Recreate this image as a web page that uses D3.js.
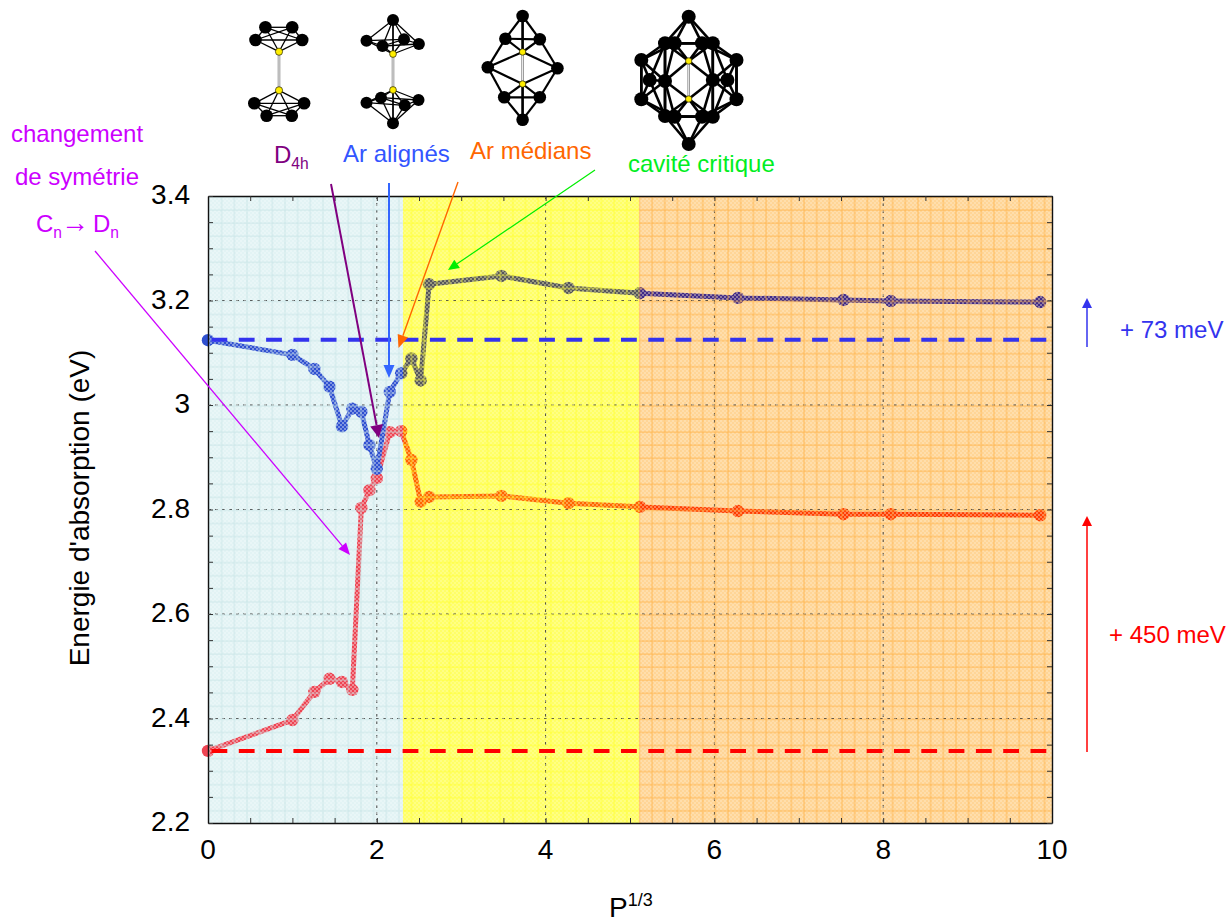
<!DOCTYPE html>
<html><head><meta charset="utf-8">
<script src="https://cdn.jsdelivr.net/npm/d3@7"></script>
<style>
html,body{margin:0;padding:0;background:#fff;overflow:hidden}
text{font-family:"Liberation Sans",Arial,sans-serif}
</style></head><body>
<svg id="c" width="1229" height="924"></svg>
<script>
// ---- chart data ----
const pCube = [0,1,1.26,1.44,1.587,1.71,1.817,1.913,2,2.154,2.289,2.41,2.52,2.62,3.476,4.27,5.117,6.28,7.53,8.09,9.86];
const blueEnergy = [3.124,3.096,3.069,3.035,2.959,2.993,2.987,2.923,2.878,3.025,3.061,3.089,3.047,3.231,3.247,3.224,3.214,3.205,3.201,3.199,3.197];
const redEnergy  = [2.338,2.397,2.451,2.476,2.470,2.455,2.803,2.837,2.860,2.948,2.950,2.895,2.815,2.824,2.826,2.812,2.805,2.797,2.791,2.791,2.789];
const xTickLabels = [0,2,4,6,8,10];
const yTickLabels = [2.2,2.4,2.6,2.8,3,3.2,3.4];
const zoneEdges = [0,2.31,5.106,10];
const refBlue = 3.125, refRed = 2.338, refEnd = 9.95;

// ---- zone colours ----
const zoneNames = ["z0","z1","z2"];
const zoneBase = ["#e2f3f4","#ffff66","#ffd596"];
const zoneDither = ["#f4fbfb","#ffffb0","#ffeccc"];
const zoneGrid = ["#c0e0e2","#ffff22","#ffa830"];
const blueLine = ["#2f50d0","#55555c","#3f2a88"];
const redLine  = ["#ee4452","#ff6400","#ff3c00"];

const svg = d3.select("#c");
const x = d3.scaleLinear().domain([0,10]).range([208,1052]);
const y = d3.scaleLinear().domain([2.2,3.4]).range([823,196]);
const defs = svg.append("defs");

function grid(id,c){
  const p = defs.append("pattern").attr("id",id).attr("patternUnits","userSpaceOnUse")
    .attr("x",208).attr("y",196).attr("width",12.66).attr("height",13.06);
  p.append("line").attr("x1",1).attr("x2",1).attr("y1",0).attr("y2",13.06).attr("stroke",c).attr("stroke-width",1);
  p.append("line").attr("x1",0).attr("x2",12.66).attr("y1",1).attr("y2",1).attr("stroke",c).attr("stroke-width",1);
}
function dither(id,c){
  const p = defs.append("pattern").attr("id",id).attr("patternUnits","userSpaceOnUse").attr("width",4).attr("height",4);
  p.append("rect").attr("width",2).attr("height",2).attr("fill",c);
  p.append("rect").attr("x",2).attr("y",2).attr("width",2).attr("height",2).attr("fill",c);
}
zoneNames.forEach((n,i)=>{
  grid("g"+n,zoneGrid[i]); dither("d"+n,zoneDither[i]);
  defs.append("clipPath").attr("id","c"+n).append("rect")
    .attr("x",x(zoneEdges[i])-(i==0?10:0)).attr("y",180)
    .attr("width",x(zoneEdges[i+1])-x(zoneEdges[i])+(i==0?10:0)+(i==2?10:0)).attr("height",660);
});
function zoneRects(fillFn,op){
  zoneNames.forEach((n,i)=>{
    svg.append("rect").attr("x",x(zoneEdges[i])).attr("y",y(3.4))
      .attr("width",x(zoneEdges[i+1])-x(zoneEdges[i])).attr("height",y(2.2)-y(3.4))
      .attr("fill",fillFn(n,i)).attr("opacity",op);
  });
}
zoneRects((n,i)=>zoneBase[i],1);

// dotted major grid
const gridG = svg.append("g").attr("stroke","#444").attr("stroke-width",1).attr("stroke-dasharray","3 4");
gridG.selectAll(".v").data(xTickLabels.slice(1,-1)).join("line")
  .attr("x1",d=>x(d)).attr("x2",d=>x(d)).attr("y1",y(3.4)).attr("y2",y(2.2));
gridG.selectAll(".h").data(yTickLabels.slice(1,-1)).join("line")
  .attr("x1",x(0)).attr("x2",x(10)).attr("y1",d=>y(d)).attr("y2",d=>y(d));

// series, one pass per zone so that the colour follows the background
const line = d3.line().x((d,i)=>x(pCube[i])).y(d=>y(d));
function series(vals,cols){
  zoneNames.forEach((n,i)=>{
    const g = svg.append("g").attr("clip-path",`url(#c${n})`);
    g.append("path").attr("d",line(vals)).attr("fill","none").attr("stroke",cols[i]).attr("stroke-width",5).attr("stroke-linejoin","round");
    g.selectAll("circle").data(vals).join("circle")
      .attr("cx",(d,j)=>x(pCube[j])).attr("cy",d=>y(d)).attr("r",6.2).attr("fill",cols[i]);
  });
}
series(redEnergy,redLine);
series(blueEnergy,blueLine);

// translucent texture above the curves
zoneRects((n)=>`url(#d${n})`,0.4);
zoneRects((n)=>`url(#g${n})`,0.65);

// axes
const minorX = d3.range(0,10.01,0.5), minorY = d3.range(2.2,3.401,0.05);
function axisStyle(g){
  g.selectAll(".domain").attr("stroke","#111").attr("stroke-width",1.4);
  g.selectAll(".tick line").attr("stroke","#333").attr("stroke-width",1);
  g.selectAll("text").remove();
}
svg.append("g").attr("transform",`translate(0,${y(2.2)})`)
  .call(d3.axisBottom(x).tickValues(minorX).tickSize(-5).tickSizeOuter(0)).call(axisStyle);
svg.append("g").attr("transform",`translate(0,${y(3.4)})`)
  .call(d3.axisTop(x).tickValues(minorX).tickSize(-5).tickSizeOuter(0)).call(axisStyle);
svg.append("g").attr("transform",`translate(${x(0)},0)`)
  .call(d3.axisLeft(y).tickValues(minorY).tickSize(-5).tickSizeOuter(0)).call(axisStyle);
svg.append("g").attr("transform",`translate(${x(10)},0)`)
  .call(d3.axisRight(y).tickValues(minorY).tickSize(-5).tickSizeOuter(0)).call(axisStyle);

// tick labels
svg.append("g").selectAll("text").data(xTickLabels).join("text")
  .attr("x",d=>x(d)).attr("y",859).attr("text-anchor","middle").attr("font-size",28).text(d=>d);
svg.append("g").selectAll("text").data(yTickLabels).join("text")
  .attr("x",190).attr("y",d=>y(d)+8).attr("text-anchor","end").attr("font-size",28).text(d=>d);

svg.append("text").attr("transform","translate(89,508) rotate(-90)").attr("text-anchor","middle")
  .attr("font-size",28).text("Energie d'absorption (eV)");
const pl = svg.append("text").attr("x",609).attr("y",917).attr("font-size",28);
pl.append("tspan").text("P");
pl.append("tspan").attr("dy",-11).attr("font-size",18).text("1/3");

// reference dashed levels
[[refBlue,"#3333ee"],[refRed,"#ff0000"]].forEach(([v,c])=>{
  svg.append("line").attr("x1",x(0)).attr("x2",x(refEnd)).attr("y1",y(v)).attr("y2",y(v))
    .attr("stroke",c).attr("stroke-width",4).attr("stroke-dasharray","15.8 11.5").attr("stroke-dashoffset",-3.5);
});

// annotation arrows
function arrow(x1,y1,x2,y2,c,w,hl,hw){
  const a = Math.atan2(y2-y1,x2-x1), bx=x2-hl*Math.cos(a), by=y2-hl*Math.sin(a);
  svg.append("line").attr("x1",x1).attr("y1",y1).attr("x2",bx).attr("y2",by).attr("stroke",c).attr("stroke-width",w);
  const nx=-Math.sin(a)*hw/2, ny=Math.cos(a)*hw/2;
  svg.append("path").attr("d",d3.line()([[x2,y2],[bx+nx,by+ny],[bx-nx,by-ny]])).attr("fill",c);
}
arrow(331,184,379,438,"#800080",2,13,13);
arrow(389,183,389,378,"#3366ff",2,13,11);
arrow(458,182,398.5,348,"#ff6600",1.4,13,11);
arrow(595,170,448,270,"#00ee00",1.2,11,10);
arrow(95,251,350,555,"#cc00ff",1.3,12,10);
arrow(1087,347,1087,298,"#3333ee",1.5,10,10);
arrow(1087,752,1087,516,"#ff0000",1.5,10,10);

// annotation text
function label(tx,ty,c,size,anchor,parts){
  const t = svg.append("text").attr("x",tx).attr("y",ty).attr("fill",c).attr("font-size",size).attr("text-anchor",anchor);
  parts.forEach(p=>{
    if(p.sub) t.append("tspan").attr("dy",6).attr("font-size",size*0.65).text(p.sub);
    else { const s=t.append("tspan").attr("dy",p.back?-6:0).text(p.t); if(p.at) s.attr("x",p.at); if(p.fs) s.attr("font-size",p.fs); }
  });
}
label(274,163,"#800080",24,"start",[{t:"D"},{sub:"4h"}]);
label(343,162,"#3355ff",24,"start",[{t:"Ar alignés"}]);
label(470,159,"#ff6600",24,"start",[{t:"Ar médians"}]);
label(628,172,"#00ee22",24,"start",[{t:"cavité critique"}]);
label(77,142,"#cc00ff",24,"middle",[{t:"changement"}]);
label(77,185,"#cc00ff",24,"middle",[{t:"de symétrie"}]);
label(36,232,"#cc00ff",24,"start",[{t:"C"},{sub:"n"},{t:"→",back:true,at:61,fs:28},{t:"D",at:93},{sub:"n"}]);
label(1120,338,"#3333ee",24,"start",[{t:"+ 73 meV"}]);
label(1109,643,"#ff0000",24,"start",[{t:"+ 450 meV"}]);

// molecule pictograms: node geometry relative to each cluster's centre
const molecules = [
 {cx:279,cy:71,r:6.3,yr:3.6,w:1.3,cut:50,split:true,
  metal:[[0,-19.3],[0,19.3]],
  rare:[[-13.6,-43.7],[13.2,-43.7],[-23.5,-31],[23.2,-31],[-24.7,32.3],[25.1,32.3],[-12.4,44.7],[12.8,44.7]]},
 {cx:393,cy:72,r:6,yr:3.4,w:1.3,cut:46,split:true,
  metal:[[0,-18],[0,18]],
  rare:[[0,-52],[-26.5,-31.3],[25.9,-28],[-10.5,-26],[11,-32.7],[-26.5,30.7],[25.5,28],[-12,25.7],[11.7,33.3],[0,51.3]]},
 {cx:522.6,cy:68,r:6.3,yr:3.2,w:2.2,cut:44,split:false,
  metal:[[0,-16],[0,16]],
  rare:[[0,-52],[-17.2,-29.3],[17.2,-28.7],[-34.8,-.7],[34.8,.3],[-18.4,29.3],[17.2,29.3],[0,51.7]]},
 {cx:688.7,cy:80,r:7,yr:3.2,w:2.6,cut:42,split:false,
  metal:[[0,-19],[0,19]],
  rare:[[0,-63.3],[0,64],[-23.7,-36.7],[-14.1,-36.7],[13.3,-36.7],[24.1,-36.7],[-47.4,-20],[47.8,-20],[-39,0],[-23.7,1],[24.1,0],[38.7,0],[-47.4,19.3],[47.8,19.3],[-23.7,36],[-14.1,36.7],[13.3,36.7],[24.1,36.7]]}
];
molecules.forEach(m=>{
  const g = svg.append("g").attr("transform",`translate(${m.cx},${m.cy})`);
  const all = m.rare.concat(m.metal);
  const links = d3.cross(all,all).filter(([a,b])=>a!==b && a[0]<=b[0]
    && Math.hypot(a[0]-b[0],a[1]-b[1])<m.cut
    && !(m.metal.includes(a)&&m.metal.includes(b))
    && !(m.split && a[1]*b[1]<0));
  g.selectAll("line.l").data(links).join("line")
    .attr("x1",d=>d[0][0]).attr("y1",d=>d[0][1]).attr("x2",d=>d[1][0]).attr("y2",d=>d[1][1])
    .attr("stroke","#000").attr("stroke-width",m.w);
  g.append("line").attr("y1",m.metal[0][1]).attr("y2",m.metal[1][1]).attr("stroke","#888").attr("stroke-width",2.6);
  g.append("line").attr("y1",m.metal[0][1]).attr("y2",m.metal[1][1]).attr("stroke","#fff").attr("stroke-width",.9);
  g.selectAll("circle.r").data(m.rare).join("circle").attr("cx",d=>d[0]).attr("cy",d=>d[1]).attr("r",m.r).attr("fill","#000");
  g.selectAll("circle.m").data(m.metal).join("circle").attr("cx",d=>d[0]).attr("cy",d=>d[1]).attr("r",m.yr)
    .attr("fill","#ffee00").attr("stroke","#000").attr("stroke-width",.6);
});
</script>
</body></html>
